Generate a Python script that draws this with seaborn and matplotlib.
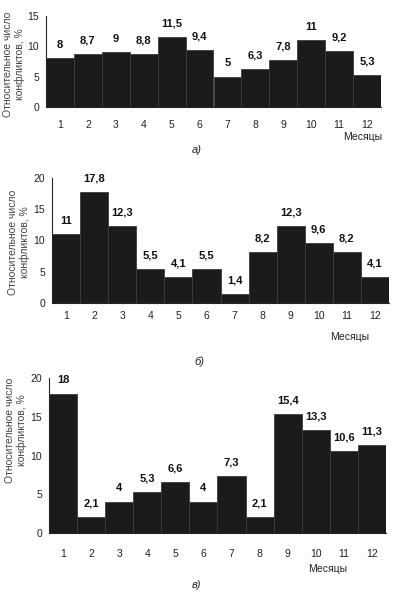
import pandas as pd
import numpy as np
import seaborn as sns
import matplotlib.pyplot as plt
from matplotlib.ticker import FixedLocator

# Data
months = [1, 2, 3, 4, 5, 6, 7, 8, 9, 10, 11, 12]
values_a = [8, 8.7, 9, 8.8, 11.5, 9.4, 5, 6.3, 7.8, 11, 9.2, 5.3]
values_b = [11, 17.8, 12.3, 5.5, 4.1, 5.5, 1.4, 8.2, 12.3, 9.6, 8.2, 4.1]
values_c = [18, 2.1, 4, 5.3, 6.6, 4, 7.3, 2.1, 15.4, 13.3, 10.6, 11.3]
captions = ['а)', 'б)', 'в)']
y_max = [15, 20, 20]
ylabel = 'Относительное число\nконфликтов, %'
xlabel = 'Месяцы'

W, H = 399, 596


def fx(px):
    return px / W


def fy(py):
    return 1 - py / H


def fmt(v):
    return ('%g' % v).replace('.', ',')


def draw_panel(fig, box, values, ymax, caption, tick_pad, lab_pos, xlab_pos, cap_pos):
    # box = (left, top, right, bottom) in pixels
    l, t, r, b = box
    ax = fig.add_axes([fx(l), fy(b), fx(r - l), (b - t) / H])
    df = pd.DataFrame({'month': [str(m) for m in months], 'value': values})
    sns.barplot(data=df, x='month', y='value', color='#1b1b1b', width=1.0,
                edgecolor='#3c3c3c', linewidth=0.6, saturation=1, ax=ax)
    ax.set_xlim(-0.5, len(months) - 0.5)
    ax.set_ylim(0, ymax)
    ax.set_yticks(np.arange(0, ymax + 1, 5))
    for sp in ['top', 'right']:
        ax.spines[sp].set_visible(False)
    ax.spines['left'].set_linewidth(0.8)
    ax.spines['bottom'].set_linewidth(0.8)
    ax.tick_params(axis='y', length=3, width=0.8, labelsize=7.5, pad=2, colors='#222222')
    ax.tick_params(axis='x', which='major', length=0, labelsize=7.5, pad=tick_pad, colors='#222222')
    ax.xaxis.set_minor_locator(FixedLocator(np.arange(-0.5, len(months), 1.0)))
    ax.tick_params(axis='x', which='minor', length=3, width=0.8)
    ax.set_xlabel('')
    ax.set_ylabel('')
    for i, v in enumerate(values):
        ax.annotate(fmt(v), (i, v), xytext=(0, 9.8), textcoords='offset points',
                    ha='center', va='center', fontsize=8, fontweight='bold', color='#111111')
    fig.text(fx(lab_pos[0]), fy(lab_pos[1]), ylabel, rotation=90, ha='center', va='center',
             fontsize=7.5, color='#444444', linespacing=1.1)
    fig.text(fx(xlab_pos[0]), fy(xlab_pos[1]), xlabel, fontsize=7.5, ha='center', va='center',
             color='#222222')
    fig.text(fx(cap_pos[0]), fy(cap_pos[1]), caption, fontsize=8, ha='center', va='center',
             style='italic', color='#222222')
    return ax


sns.set_style('white')
plt.rcParams['font.family'] = ['Liberation Sans', 'DejaVu Sans']

fig = plt.figure(figsize=(W / 100, H / 100), dpi=100)

draw_panel(fig, (46, 16, 381, 107), values_a, y_max[0], captions[0], 9.5,
           (14, 64), (363, 137), (197, 150))
draw_panel(fig, (52, 178, 389, 303), values_b, y_max[1], captions[1], 6,
           (19, 242), (350, 337), (199, 362))
draw_panel(fig, (49, 378, 386, 533), values_c, y_max[2], captions[2], 11.5,
           (16, 430), (328, 569), (197, 585))

fig.savefig('out.png', dpi=100, facecolor='white')
